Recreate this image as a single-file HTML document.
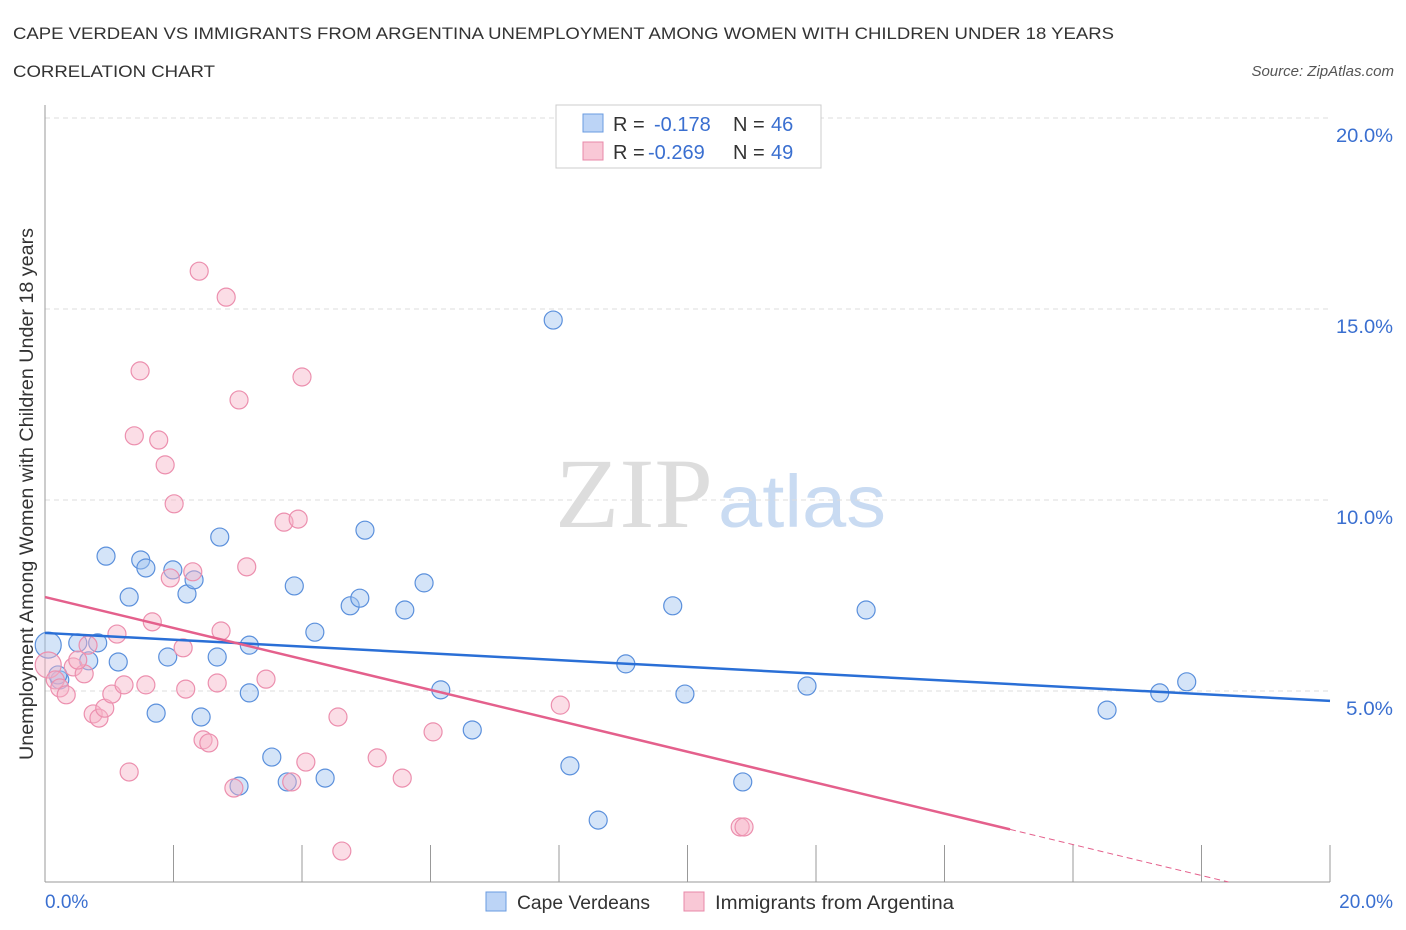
<!DOCTYPE html>
<html><head><meta charset="utf-8"><style>
body{margin:0;background:#fff;font-family:"Liberation Sans",sans-serif;}
svg{display:block}
</style></head><body>
<svg id="chart" width="1406" height="930" xmlns="http://www.w3.org/2000/svg">
<text x="13" y="39" font-size="17" fill="#333" textLength="1101" lengthAdjust="spacingAndGlyphs">CAPE VERDEAN VS IMMIGRANTS FROM ARGENTINA UNEMPLOYMENT AMONG WOMEN WITH CHILDREN UNDER 18 YEARS</text>
<text x="13" y="77" font-size="17" fill="#333" textLength="202" lengthAdjust="spacingAndGlyphs">CORRELATION CHART</text>
<text x="1394" y="76" font-size="15" fill="#555" font-style="italic" text-anchor="end">Source: ZipAtlas.com</text>
<g>
<text x="634" y="527" font-size="100" fill="#ddd" font-family="Liberation Serif,serif" text-anchor="middle" textLength="158" lengthAdjust="spacingAndGlyphs">ZIP</text>
<text x="802" y="527" font-size="74" fill="#c9dbf2" text-anchor="middle" textLength="168" lengthAdjust="spacingAndGlyphs">atlas</text>
</g>
<g id="grid"></g>
<line x1="45" y1="105" x2="45" y2="882" stroke="#999" stroke-width="1"/>
<line x1="45" y1="882" x2="1330" y2="882" stroke="#999" stroke-width="1"/>
<g id="ticks"></g>
<g id="pts"></g>
<g id="trends"></g>
<text transform="translate(33,494) rotate(-90)" font-size="19" fill="#333" text-anchor="middle" textLength="532" lengthAdjust="spacingAndGlyphs">Unemployment Among Women with Children Under 18 years</text>
<text x="45" y="908" font-size="19" fill="#3a6fd0">0.0%</text>
<text x="1393" y="908" font-size="19" fill="#3a6fd0" text-anchor="end">20.0%</text>
<g>
<rect x="556" y="105" width="265" height="63" fill="#fff" stroke="#ccc"/>
<rect x="583" y="114" width="20" height="18" fill="#bcd4f6" stroke="#6a9be0"/>
<rect x="583" y="142" width="20" height="18" fill="#f9c8d6" stroke="#e888a8"/>
<text x="613" y="131" font-size="20" fill="#333">R =</text><text x="654" y="131" font-size="20" fill="#3a6fd0">-0.178</text>
<text x="733" y="131" font-size="20" fill="#333">N =</text><text x="771" y="131" font-size="20" fill="#3a6fd0">46</text>
<text x="613" y="159" font-size="20" fill="#333">R =</text><text x="648" y="159" font-size="20" fill="#3a6fd0">-0.269</text>
<text x="733" y="159" font-size="20" fill="#333">N =</text><text x="771" y="159" font-size="20" fill="#3a6fd0">49</text>
</g>
<g>
<rect x="486" y="892" width="20" height="19" fill="#bcd4f6" stroke="#6a9be0"/>
<text x="517" y="909" font-size="19" fill="#333" textLength="133" lengthAdjust="spacingAndGlyphs">Cape Verdeans</text>
<rect x="684" y="892" width="20" height="19" fill="#f9c8d6" stroke="#e888a8"/>
<text x="715" y="909" font-size="19" fill="#333" textLength="239" lengthAdjust="spacingAndGlyphs">Immigrants from Argentina</text>
</g>
</svg>
<script>
const yTicks=[5,10,15,20];
const yTickLabels=["5.0%","10.0%","15.0%","20.0%"];
const xTicks=[0,2,4,6,8,10,12,14,16,18,20];
const blueX=[0.05,0.51,0.68,0.82,0.95,1.14,1.31,1.49,1.57,1.73,1.91,1.99,2.21,2.32,2.43,2.68,2.72,3.18,3.18,3.02,3.53,3.77,3.88,4.20,4.36,4.75,4.90,4.98,5.60,5.90,6.16,6.65,7.91,8.17,8.61,9.04,9.77,9.96,10.86,11.86,12.78,16.53,17.35,17.77,0.23,0.20];
const blueY=[6.20,6.26,5.79,6.26,8.53,5.76,7.46,8.43,8.22,4.42,5.89,8.17,7.54,7.91,4.32,5.89,9.03,6.20,4.95,2.51,3.27,2.62,7.75,6.54,2.72,7.23,7.43,9.21,7.12,7.83,5.03,3.98,14.71,3.04,1.62,5.71,7.23,4.92,2.62,5.13,7.12,4.50,4.95,5.24,5.29,5.42];
const pinkX=[0.05,0.16,0.23,0.33,0.44,0.61,0.51,0.67,0.75,0.84,0.93,1.04,1.12,1.23,1.31,1.39,1.48,1.57,1.67,1.77,1.87,1.95,2.01,2.15,2.19,2.30,2.40,2.46,2.55,2.68,2.74,2.82,2.94,3.02,3.14,3.44,3.72,3.84,3.94,4.00,4.06,4.56,4.62,5.17,5.56,6.04,8.02,10.82,10.88];
const pinkY=[5.68,5.29,5.08,4.90,5.63,5.45,5.81,6.20,4.40,4.29,4.55,4.92,6.49,5.16,2.88,11.68,13.38,5.16,6.81,11.57,10.92,7.96,9.90,6.13,5.05,8.12,15.99,3.72,3.64,5.21,6.57,15.31,2.46,12.62,8.25,5.31,9.42,2.62,9.50,13.22,3.14,4.32,0.81,3.25,2.72,3.93,4.63,1.44,1.44];
const blueTrend=[6.52,4.74];
const pinkTrend=[7.46,-0.405];
const NS="http://www.w3.org/2000/svg";
const X=v=>45+v*64.25, Y=v=>882-v*38.2;
function mk(tag,attrs,parent){const e=document.createElementNS(NS,tag);for(const k in attrs)e.setAttribute(k,attrs[k]);document.getElementById(parent).appendChild(e);return e;}
yTicks.forEach((t,i)=>{
 const g=mk('line',{x1:45,x2:1330,y1:Y(t),y2:Y(t),stroke:'#ddd','stroke-dasharray':'5,4'},'grid');
 
 
 const l=mk('text',{x:1393,y:Y(t)+24,'font-size':19,fill:'#3a6fd0','text-anchor':'end',textLength:57,lengthAdjust:'spacingAndGlyphs'},'ticks');
 l.textContent=yTickLabels[i];
 if(yTickLabels[i].length<5) l.setAttribute('textLength',47);
 
 
});
xTicks.forEach(t=>{
 const e=mk('line',{x1:X(t),x2:X(t),y1:845,y2:882,stroke:'#999'},'ticks');
 
 
});
blueX.forEach((v,i)=>{
 const r=i==0?13:9;
 const c=mk('circle',{cx:X(v),cy:Y(blueY[i]),r:r,fill:'rgba(160,196,240,0.45)',stroke:'#5b90dc','stroke-width':1.2},'pts');
 
 
});
pinkX.forEach((v,i)=>{
 const r=i==0?13:9;
 const c=mk('circle',{cx:X(v),cy:Y(pinkY[i]),r:r,fill:'rgba(246,180,200,0.45)',stroke:'#ec8fae','stroke-width':1.2},'pts');
 
 
});
const bt=mk('line',{x1:X(0),y1:Y(blueTrend[0]),x2:X(20),y2:Y(blueTrend[1]),stroke:'#2a6fd6','stroke-width':2.5},'trends');


const pe=15.02, pz=-pinkTrend[0]/pinkTrend[1];
const pt=mk('line',{x1:X(0),y1:Y(pinkTrend[0]),x2:X(pe),y2:Y(pinkTrend[0]+pinkTrend[1]*pe),stroke:'#e4608c','stroke-width':2.5},'trends');


const pd=mk('line',{x1:X(pe),y1:Y(pinkTrend[0]+pinkTrend[1]*pe),x2:X(pz),y2:Y(0),stroke:'#e4608c','stroke-width':1,'stroke-dasharray':'6,4'},'trends');


</script>
</body></html>
